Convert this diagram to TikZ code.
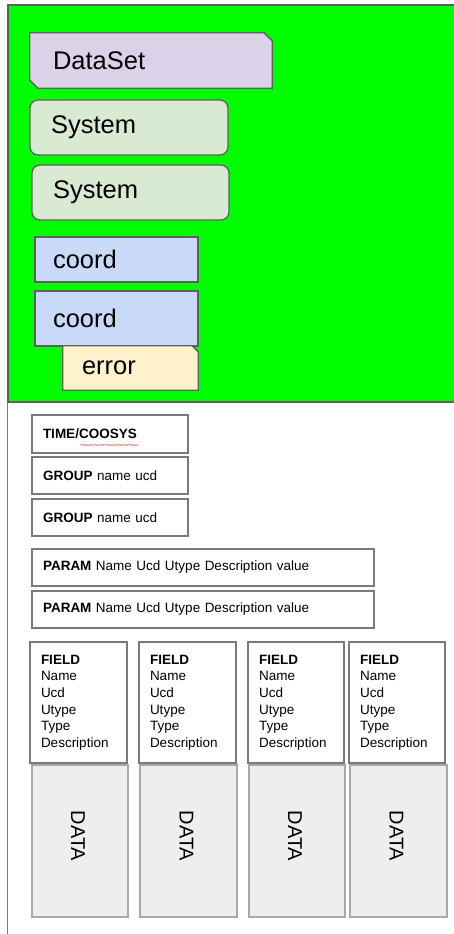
\documentclass[tikz,border=0pt]{standalone}
\usepackage{fontspec}
\setmainfont{Liberation Sans}
\usetikzlibrary{decorations.pathmorphing}

\definecolor{bggreen}{HTML}{00FF00}
\definecolor{edgegray}{HTML}{5F5F5F}
\definecolor{boxgray}{HTML}{7A7A7A}
\definecolor{datagray}{HTML}{A8A8A8}
\definecolor{dsfill}{HTML}{D9D2E9}
\definecolor{sysfill}{HTML}{D9EAD3}
\definecolor{coordfill}{HTML}{C9DAF8}
\definecolor{errfill}{HTML}{FFF2CC}
\definecolor{datafill}{HTML}{EEEEEE}

\tikzset{
  bigtext/.style={font=\fontsize{25.5}{30}\selectfont, align=left},
  smalltext/.style={font=\fontsize{13.5}{16.6}\selectfont, align=left},
  topbox/.style={draw=edgegray, line width=1.3pt, bigtext},
  cutedge/.style={draw=edgegray, line width=1.3pt, line join=miter},
  lowbox/.style={draw=boxgray, line width=1.1pt, fill=white, smalltext,
    inner xsep=11pt},
  plainbox/.style={rectangle, bigtext},
  sysbox/.style={topbox, fill=sysfill, rectangle, rounded corners=8pt},
  coordbox/.style={topbox, fill=coordfill, rectangle},
  fieldbox/.style={lowbox, minimum width=#1, text width=#1-22pt,
    minimum height=121pt},
  databox/.style={draw=datagray, line width=1.1pt, fill=datafill,
    minimum width=#1, minimum height=152pt},
  datalabel/.style={font=\fontsize{20}{23}\selectfont, rotate=-90},
}

\begin{document}
\begin{tikzpicture}[x=1pt,y=-1pt]
  \useasboundingbox (0,0) rectangle (454,934);
  \fill[white] (0,0) rectangle (454,934);

  % green frame holding the nested elements
  \fill[bggreen] (8,5) rectangle (454,402);
  \draw[edgegray, line width=1.6pt] (454,5) -- (8,5) -- (8,402) -- (454,402);
  % left rule of the table part
  \draw[boxgray, line width=1.6pt] (7.5,402) -- (7.5,934);

  % DataSet: box with two cut corners (top right, bottom left)
  \node[plainbox, minimum width=242pt, minimum height=55pt,
        inner xsep=23pt, text width=196pt] (ds) at (151,60.5) {};
  \filldraw[cutedge, fill=dsfill]
    ([xshift=-8pt]ds.north east) -- (ds.north west)
    -- ([yshift=8pt]ds.south west) -- ([xshift=8pt]ds.south west)
    -- (ds.south east) -- ([yshift=-8pt]ds.north east) -- cycle;
  \node[plainbox, minimum width=242pt, minimum height=55pt,
        inner xsep=23pt, text width=196pt] (dslabel) at (ds.center) {DataSet};

  \node[sysbox, minimum width=198pt, minimum height=55pt,
        inner xsep=21pt, text width=156pt] (sysa) at (129,127.5) {System};
  \node[sysbox, minimum width=197pt, minimum height=55pt,
        inner xsep=21pt, text width=155pt] (sysb) at (130.5,192.5) {System};
  \node[coordbox, minimum width=163pt, minimum height=45pt,
        inner xsep=18pt, text width=127pt] (coa) at (116.5,259.5) {coord};
  \node[coordbox, minimum width=163pt, minimum height=55pt,
        inner xsep=18pt, text width=127pt] (cob) at (116.5,318.5) {coord};

  % error: box with its top right corner cut
  \node[plainbox, minimum width=135pt, minimum height=44pt,
        inner xsep=19pt, text width=97pt] (err) at (130.5,368) {};
  \filldraw[cutedge, fill=errfill]
    ([xshift=-6pt]err.north east) -- (err.north west) -- (err.south west)
    -- (err.south east) -- ([yshift=-6pt]err.north east) -- cycle;
  \node[plainbox, minimum width=135pt, minimum height=44pt,
        inner xsep=19pt, text width=97pt] (errlabel) at (err.center) {error};

  % table header elements
  \node[lowbox, minimum width=156pt, minimum height=38pt, text width=134pt]
    (time) at (110,434) {\textbf{TIME/COOSYS}};
  \node[lowbox, minimum width=156pt, minimum height=37pt, text width=134pt]
    (grpa) at (110,475.5) {\textbf{GROUP} name ucd};
  \node[lowbox, minimum width=156pt, minimum height=37pt, text width=134pt]
    (grpb) at (110,517.5) {\textbf{GROUP} name ucd};
  \node[lowbox, minimum width=342pt, minimum height=37pt, text width=320pt]
    (para) at (203,567.5) {\textbf{PARAM} Name Ucd Utype Description value};
  \node[lowbox, minimum width=342pt, minimum height=37pt, text width=320pt]
    (parb) at (203,609.5) {\textbf{PARAM} Name Ucd Utype Description value};

  % spell-check squiggle under COOSYS
  \coordinate (sqa) at (80,445);
  \coordinate (sqb) at (139,445);
  \draw[red!60, line width=0.45pt, decorate,
        decoration={snake, amplitude=0.6pt, segment length=2.4pt}]
    (sqa) -- (sqb);

  % field columns
  \foreach \i/\xa/\xb in {1/30/127, 2/139/236, 3/248/344, 4/349/445} {
    \node[fieldbox=\xb-\xa] (field\i) at ({(\xa+\xb)/2},702.5)
      {\textbf{FIELD}\\Name\\Ucd\\Utype\\Type\\Description};
  }
  \foreach \i/\xa/\xb in {1/32/128, 2/140/237, 3/249/345, 4/350/447} {
    \node[databox=\xb-\xa] (data\i) at ({(\xa+\xb)/2},841) {};
    \node[datalabel] (datalbl\i) at ({(\xa+\xb)/2-2},836) {DATA};
  }
\end{tikzpicture}
\end{document}
